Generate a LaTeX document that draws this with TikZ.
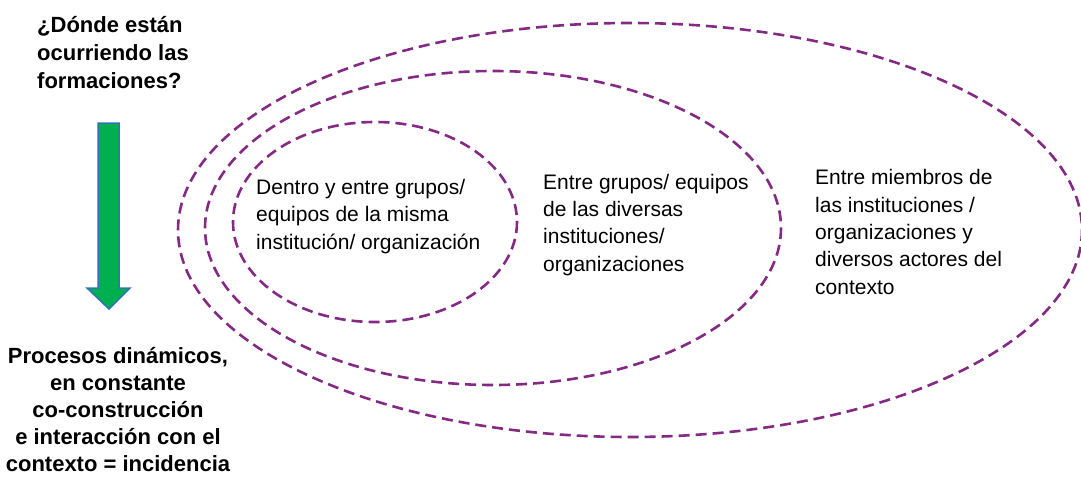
\documentclass[tikz,border=0pt]{standalone}
\usepackage{fontspec}
\setmainfont{Liberation Sans}
\usetikzlibrary{positioning}
\definecolor{ringpurple}{RGB}{132,42,132}
\definecolor{arrowgreen}{RGB}{0,176,80}
\definecolor{arrowblue}{RGB}{46,117,182}

\begin{document}
\begin{tikzpicture}[
	x=1pt,
	y=-1pt,
	ring/.style={
		draw=ringpurple,
		line width=2.6pt,
		dash pattern=on 11pt off 6pt
	},
	lbl/.style={
		align=left,
		anchor=base west,
		inner sep=0pt,
		font=\fontsize{21}{27.3}\selectfont
	},
	head/.style={
		inner sep=0pt,
		font=\fontsize{22}{28}\selectfont\bfseries
	}
	]
	\useasboundingbox (0,0) rectangle (1081,477);

	% three nested rings, outermost first
	\draw[ring] (630,230) ellipse [x radius=452, y radius=207];
	\draw[ring] (493,228) ellipse [x radius=288, y radius=157];
	\draw[ring] (375,222) ellipse [x radius=142, y radius=100];

	% ring labels (anchored at the baseline of their last line)
	\node[lbl] (inner) at (256,249) {Dentro y entre grupos/\\equipos de la misma\\institución/ organización};
	\node[lbl] (middle) at (543,271) {Entre grupos/ equipos\\de las diversas\\instituciones/\\organizaciones};
	\node[lbl] (outer) at (815,294) {Entre miembros de\\las instituciones /\\organizaciones y\\diversos actores del\\contexto};

	% question and answer on the left
	\node[head, align=left, anchor=base west] (question) at (37,88) {¿Dónde están\\ocurriendo las\\formaciones?};
	\node[head, align=center, anchor=base, font=\fontsize{22}{27}\selectfont\bfseries] (answer) at (118,471) {Procesos dinámicos,\\en constante\\co-construcción\\e interacción con el\\contexto = incidencia};

	% block arrow between them
	\draw[fill=arrowgreen, draw=arrowblue, line width=1.5pt, line join=miter]
		(98,123) -- (119,123) -- (119,288) -- (130,288) -- (109,309)
		-- (87,288) -- (98,288) -- cycle;
\end{tikzpicture}
\end{document}
